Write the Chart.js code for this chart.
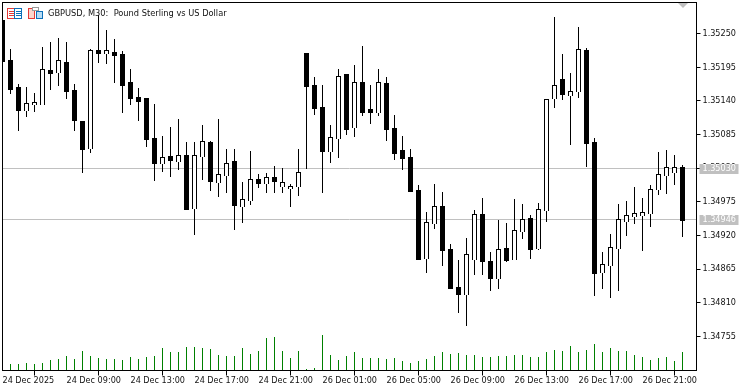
<!DOCTYPE html>
<html>
<head>
<meta charset="utf-8">
<title>GBPUSD, M30</title>
<script src="https://cdn.jsdelivr.net/npm/chart.js@4/dist/chart.umd.min.js"></script>
<style>
html, body { margin: 0; padding: 0; background: #fff; overflow: hidden; }
canvas { display: block; }
</style>
</head>
<body>
<canvas id="chart" width="749" height="391"></canvas>
<script>
// precios en puntos (1e-5)
const openPts = [135272,135207,135163,135123,135133,135133,135190,135185,135203,135158,135107,135061,135223,135217,135220,135217,135171,135146,135145,135079,135037,135050,135040,135051,134963,135048,135073,135006,135017,135042,134967,134976,135012,135004,135016,134999,134996,134999,135218,135166,135130,135056,135078,135184,135096,135171,135127,135120,135169,135096,135060,135048,134994,134882,134939,134968,134898,134836,134823,134880,134955,134878,134849,134900,134880,134926,134949,134898,134960,135143,135176,135148,135154,135223,135073,134859,134870,134898,134942,134950,134952,134955,134994,135017,135022,135032];
const highPts = [135272,135225,135167,135163,135153,135228,135236,135243,135236,135167,135107,135225,135280,135256,135241,135221,135192,135161,135145,135135,135083,135097,135110,135073,135073,135100,135074,135110,135061,135061,135007,135058,135020,135022,135034,135030,135004,135061,135218,135179,135166,135100,135192,135184,135199,135230,135166,135192,135179,135117,135083,135061,135002,134958,135004,134991,134906,134880,134916,134962,134981,134893,134945,134940,134980,134971,134953,134973,135143,135277,135217,135185,135261,135226,135079,134893,134922,134971,134976,134999,134981,135002,135056,135060,135051,135035];
const lowPts = [135203,135151,135091,135114,135122,135133,135158,135164,135143,135091,135022,135055,135202,135200,135169,135120,135133,135107,135065,135009,135024,135016,135027,134962,134921,135011,134993,134983,134989,134929,134940,134970,134998,134989,134989,134989,134967,134984,135029,135117,134989,135038,135047,135084,135081,135115,135102,135115,135074,135043,135027,134991,134880,134859,134931,134870,134833,134793,134772,134855,134855,134829,134833,134877,134880,134914,134882,134896,134942,135128,135141,135068,135145,135032,134821,134833,134818,134829,134919,134939,134895,134934,134986,134988,135002,134917];
const closePts = [135203,135158,135123,135136,135138,135192,135184,135207,135154,135107,135060,135223,135217,135223,135213,135164,135143,135138,135076,135037,135048,135042,135051,134962,135051,135074,135007,135020,135038,134968,134980,135012,135004,135016,135007,135007,135001,135024,135163,135127,135056,135081,135181,135092,135171,135120,135120,135171,135092,135053,135045,134991,134880,134942,134968,134895,134833,134823,134890,134955,134877,134849,134898,134878,134929,134947,134896,134963,135143,135166,135150,135156,135225,135069,134857,134873,134901,134947,134953,134957,134958,134996,135020,135032,135032,134944];
const tickVolume = [240,280,280,320,280,320,440,480,600,480,800,600,520,480,480,440,560,480,560,600,920,760,760,960,960,920,880,640,600,600,920,680,800,1320,1360,800,520,800,80,120,1440,640,440,600,760,520,520,520,480,520,400,320,400,480,600,760,680,720,640,640,560,560,600,600,640,640,560,560,760,840,800,1000,760,840,1080,760,920,800,800,640,560,440,520,560,400,760];
const priceTicks = [1.34755,1.3481,1.34865,1.3492,1.34975,1.3503,1.35085,1.3514,1.35195,1.3525];
const markedPrices = [1.3503,1.34946];
const timeLabels = ['24 Dec 2025','24 Dec 09:00','24 Dec 13:00','24 Dec 17:00','24 Dec 21:00','26 Dec 01:00','26 Dec 05:00','26 Dec 09:00','26 Dec 13:00','26 Dec 17:00','26 Dec 21:00'];
const chartTitle = 'GBPUSD, M30:  Pound Sterling vs US Dollar';

const barsPerLabel = 8;
const fontFamily = '"DejaVu Sans Condensed", "DejaVu Sans", sans-serif';
const toPrice = p => p / 100000;

const bodies = openPts.map((o, i) => ({ x: i, y: [toPrice(o), toPrice(closePts[i])] }));
const wicks = highPts.map((h, i) => ({ x: i, y: [toPrice(lowPts[i]), toPrice(h)] }));
const volumes = tickVolume.map((v, i) => ({ x: i, y: v }));

// Las velas de MT5 caen siempre en pixel entero
const snapBars = {
    id: 'snapBars',
    afterDatasetsUpdate(chart) {
        chart.data.datasets.forEach((ds, i) => {
            chart.getDatasetMeta(i).data.forEach(el => {
                el.y = Math.round(el.y);
                el.base = Math.round(el.base);
            });
        });
    }
};

function drawIcons(ctx) {
    // lista
    ctx.lineWidth = 1;
    ctx.strokeStyle = '#e53935';
    ctx.strokeRect(7.5, 8.5, 7, 10);
    ctx.beginPath();
    [11.5, 13.5, 15.5].forEach(y => { ctx.moveTo(9, y); ctx.lineTo(14, y); });
    ctx.stroke();
    ctx.strokeStyle = '#0b6fb8';
    ctx.strokeRect(14.5, 8.5, 7, 10);
    ctx.beginPath();
    [11.5, 13.5, 15.5].forEach(y => { ctx.moveTo(16, y); ctx.lineTo(21, y); });
    ctx.stroke();
    // ventanas
    ctx.fillStyle = '#fbd5cc';
    ctx.fillRect(28.5, 8.5, 6, 10);
    ctx.strokeStyle = '#e53935';
    ctx.strokeRect(28.5, 8.5, 6, 10);
    ctx.fillStyle = '#b7dcf5';
    ctx.fillRect(36.5, 11.5, 6, 7);
    ctx.strokeStyle = '#0b6fb8';
    ctx.strokeRect(36.5, 11.5, 6, 7);
    ctx.fillStyle = '#fff';
    ctx.fillRect(32.5, 7.5, 6, 3);
    ctx.strokeStyle = '#9a9a9a';
    ctx.strokeRect(32.5, 7.5, 6, 3);
}

const decorations = {
    id: 'decorations',
    beforeDatasetsDraw(chart) {
        const { ctx, chartArea, scales } = chart;
        ctx.save();
        ctx.strokeStyle = '#c0c0c0';
        ctx.lineWidth = 1;
        markedPrices.forEach(p => {
            const y = Math.floor(scales.y.getPixelForValue(p)) + 0.5;
            ctx.beginPath();
            ctx.moveTo(chartArea.left, y);
            ctx.lineTo(chartArea.right, y);
            ctx.stroke();
        });
        ctx.restore();
    },
    afterDraw(chart) {
        const { ctx, chartArea, scales } = chart;
        ctx.save();
        // marco
        ctx.strokeStyle = '#000';
        ctx.lineWidth = 1;
        ctx.strokeRect(chartArea.left, chartArea.top, chartArea.width, chartArea.height);

        // etiquetas de precio marcadas
        ctx.font = '9px ' + fontFamily;
        ctx.textBaseline = 'middle';
        ctx.textAlign = 'left';
        markedPrices.forEach(p => {
            const y = Math.floor(scales.y.getPixelForValue(p));
            ctx.fillStyle = '#c0c0c0';
            ctx.fillRect(chartArea.right + 3, y - 4, 39, 10);
            ctx.fillStyle = '#fff';
            ctx.fillText(p.toFixed(5), chartArea.right + 6, y + 1);
        });

        // triangulo de desplazamiento
        ctx.fillStyle = '#c0c0c0';
        ctx.beginPath();
        ctx.moveTo(678, 3);
        ctx.lineTo(688, 3);
        ctx.lineTo(683, 8);
        ctx.closePath();
        ctx.fill();

        drawIcons(ctx);

        ctx.font = '9.2px ' + fontFamily;
        ctx.fillStyle = '#111';
        ctx.fillText(chartTitle, 48, 14);
        ctx.restore();
    }
};

const clearAxisPadding = axis => {
    axis.paddingTop = 0;
    axis.paddingBottom = 0;
    axis.paddingLeft = 0;
    axis.paddingRight = 0;
};

new Chart(document.getElementById('chart'), {
    type: 'bar',
    data: {
        datasets: [
            {
                label: 'Body',
                data: bodies,
                yAxisID: 'y',
                grouped: false,
                barThickness: 5,
                inflateAmount: 0,
                borderWidth: 1,
                borderColor: '#000',
                backgroundColor: openPts.map((o, i) => closePts[i] >= o ? '#fff' : '#000')
            },
            {
                label: 'Wick',
                data: wicks,
                yAxisID: 'y',
                grouped: false,
                barThickness: 1,
                inflateAmount: 0,
                backgroundColor: '#000'
            },
            {
                label: 'Volume',
                data: volumes,
                yAxisID: 'yVol',
                grouped: false,
                barThickness: 1,
                inflateAmount: 0,
                backgroundColor: '#008000'
            }
        ]
    },
    options: {
        responsive: false,
        animation: false,
        events: [],
        layout: { padding: { left: 2.5, top: 2.5, right: 0, bottom: 0 } },
        plugins: { legend: { display: false }, tooltip: { enabled: false } },
        scales: {
            x: {
                type: 'linear',
                offset: false,
                min: 0,
                max: 86.75,
                afterFit: axis => { axis.height = 20.5; clearAxisPadding(axis); },
                grid: { drawOnChartArea: false, color: '#000', tickLength: 5 },
                border: { color: '#000' },
                ticks: {
                    stepSize: barsPerLabel,
                    includeBounds: false,
                    autoSkip: false,
                    maxRotation: 0,
                    align: 'start',
                    padding: 0,
                    color: '#111',
                    font: { family: fontFamily, size: 9 },
                    callback: v => timeLabels[v / barsPerLabel]
                }
            },
            y: {
                position: 'right',
                min: 1.3469934,
                max: 1.3530066,
                afterBuildTicks: axis => { axis.ticks = priceTicks.map(value => ({ value })); },
                afterFit: axis => { axis.width = 52.5; clearAxisPadding(axis); },
                grid: { drawOnChartArea: false, color: '#000', tickLength: 4 },
                border: { color: '#000' },
                ticks: {
                    padding: 2,
                    color: '#111',
                    font: { family: fontFamily, size: 9 },
                    callback: v => v.toFixed(5)
                }
            },
            yVol: {
                display: false,
                min: 0,
                max: 14720
            }
        }
    },
    plugins: [snapBars, decorations]
});
</script>
</body>
</html>
